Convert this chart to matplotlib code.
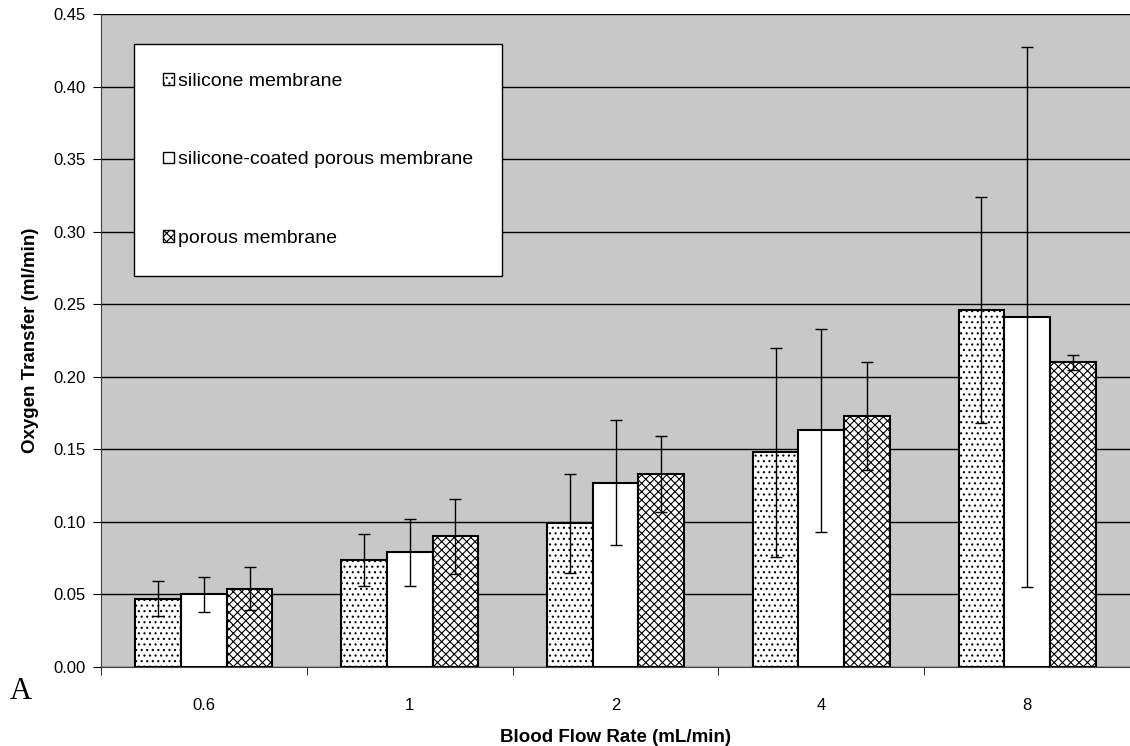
import matplotlib.pyplot as plt
import numpy as np

plt.rcParams['font.family'] = ['Liberation Sans', 'DejaVu Sans']
plt.rcParams['hatch.linewidth'] = 0.8

# data
flow_rates = ['0.6', '1', '2', '4', '8']
silicone = [0.047, 0.074, 0.099, 0.148, 0.246]
silicone_err = [0.012, 0.018, 0.034, 0.072, 0.078]
coated = [0.050, 0.079, 0.127, 0.163, 0.241]
coated_err = [0.012, 0.023, 0.043, 0.070, 0.186]
porous = [0.054, 0.090, 0.133, 0.173, 0.210]
porous_err = [0.015, 0.026, 0.026, 0.037, 0.005]

series = [
    ('silicone membrane', silicone, silicone_err, '...'),
    ('silicone-coated porous membrane', coated, coated_err, ''),
    ('porous membrane', porous, porous_err, 'xxxx'),
]

fig = plt.figure(figsize=(11.3, 7.46), dpi=100)
ax = fig.add_axes([0.0894, 0.1059, 0.9106, 0.8753])
ax.set_facecolor('#c8c8c8')

x = np.arange(len(flow_rates))
w = 0.222
for i, (name, vals, errs, hatch) in enumerate(series):
    pos = x + (i - 1) * w
    ax.bar(pos, vals, w, color='white', edgecolor='black', linewidth=1.5,
           hatch=hatch, label=name, zorder=3)
    ax.errorbar(pos, vals, yerr=errs, fmt='none', ecolor='black',
                elinewidth=1, capsize=4, capthick=1, zorder=4)

ax.set_xlim(-0.5, len(flow_rates) - 0.5)
ax.set_ylim(0, 0.45)
ax.set_yticks(np.arange(0, 0.451, 0.05))
ax.set_yticklabels(['%.2f' % v for v in np.arange(0, 0.451, 0.05)])
ax.yaxis.grid(True, color='black', linewidth=1, zorder=0)
ax.set_axisbelow(True)

ax.set_xticks(x)
ax.set_xticklabels(flow_rates)
ax.set_xticks(np.arange(-0.5, len(flow_rates)), minor=True)
ax.tick_params(axis='x', which='major', length=0, pad=22, labelsize=12)
ax.tick_params(axis='x', which='minor', length=6, direction='out')
ax.tick_params(axis='y', length=6, direction='out', labelsize=12, pad=5)

for s in ['top', 'right']:
    ax.spines[s].set_visible(False)
ax.spines['left'].set_color('#404040')
ax.spines['bottom'].set_color('#404040')

ax.set_xlabel('Blood Flow Rate (mL/min)', fontsize=13.5, fontweight='bold', labelpad=12)
ax.set_ylabel('Oxygen Transfer (ml/min)', fontsize=13.5, fontweight='bold', labelpad=10)

leg = ax.legend(loc='upper left', bbox_to_anchor=(0.032, 0.954), fontsize=14,
                frameon=True, fancybox=False, edgecolor='black', framealpha=1,
                handlelength=0.55, handleheight=0.55, handletextpad=0.2,
                labelspacing=3.15, borderpad=1.5, borderaxespad=0)
leg.get_frame().set_linewidth(1)
for h in leg.legend_handles:
    h.set_linewidth(1)

fig.text(0.009, 0.063, 'A', fontsize=22, family='Liberation Serif')

fig.savefig('out.png', dpi=100)
